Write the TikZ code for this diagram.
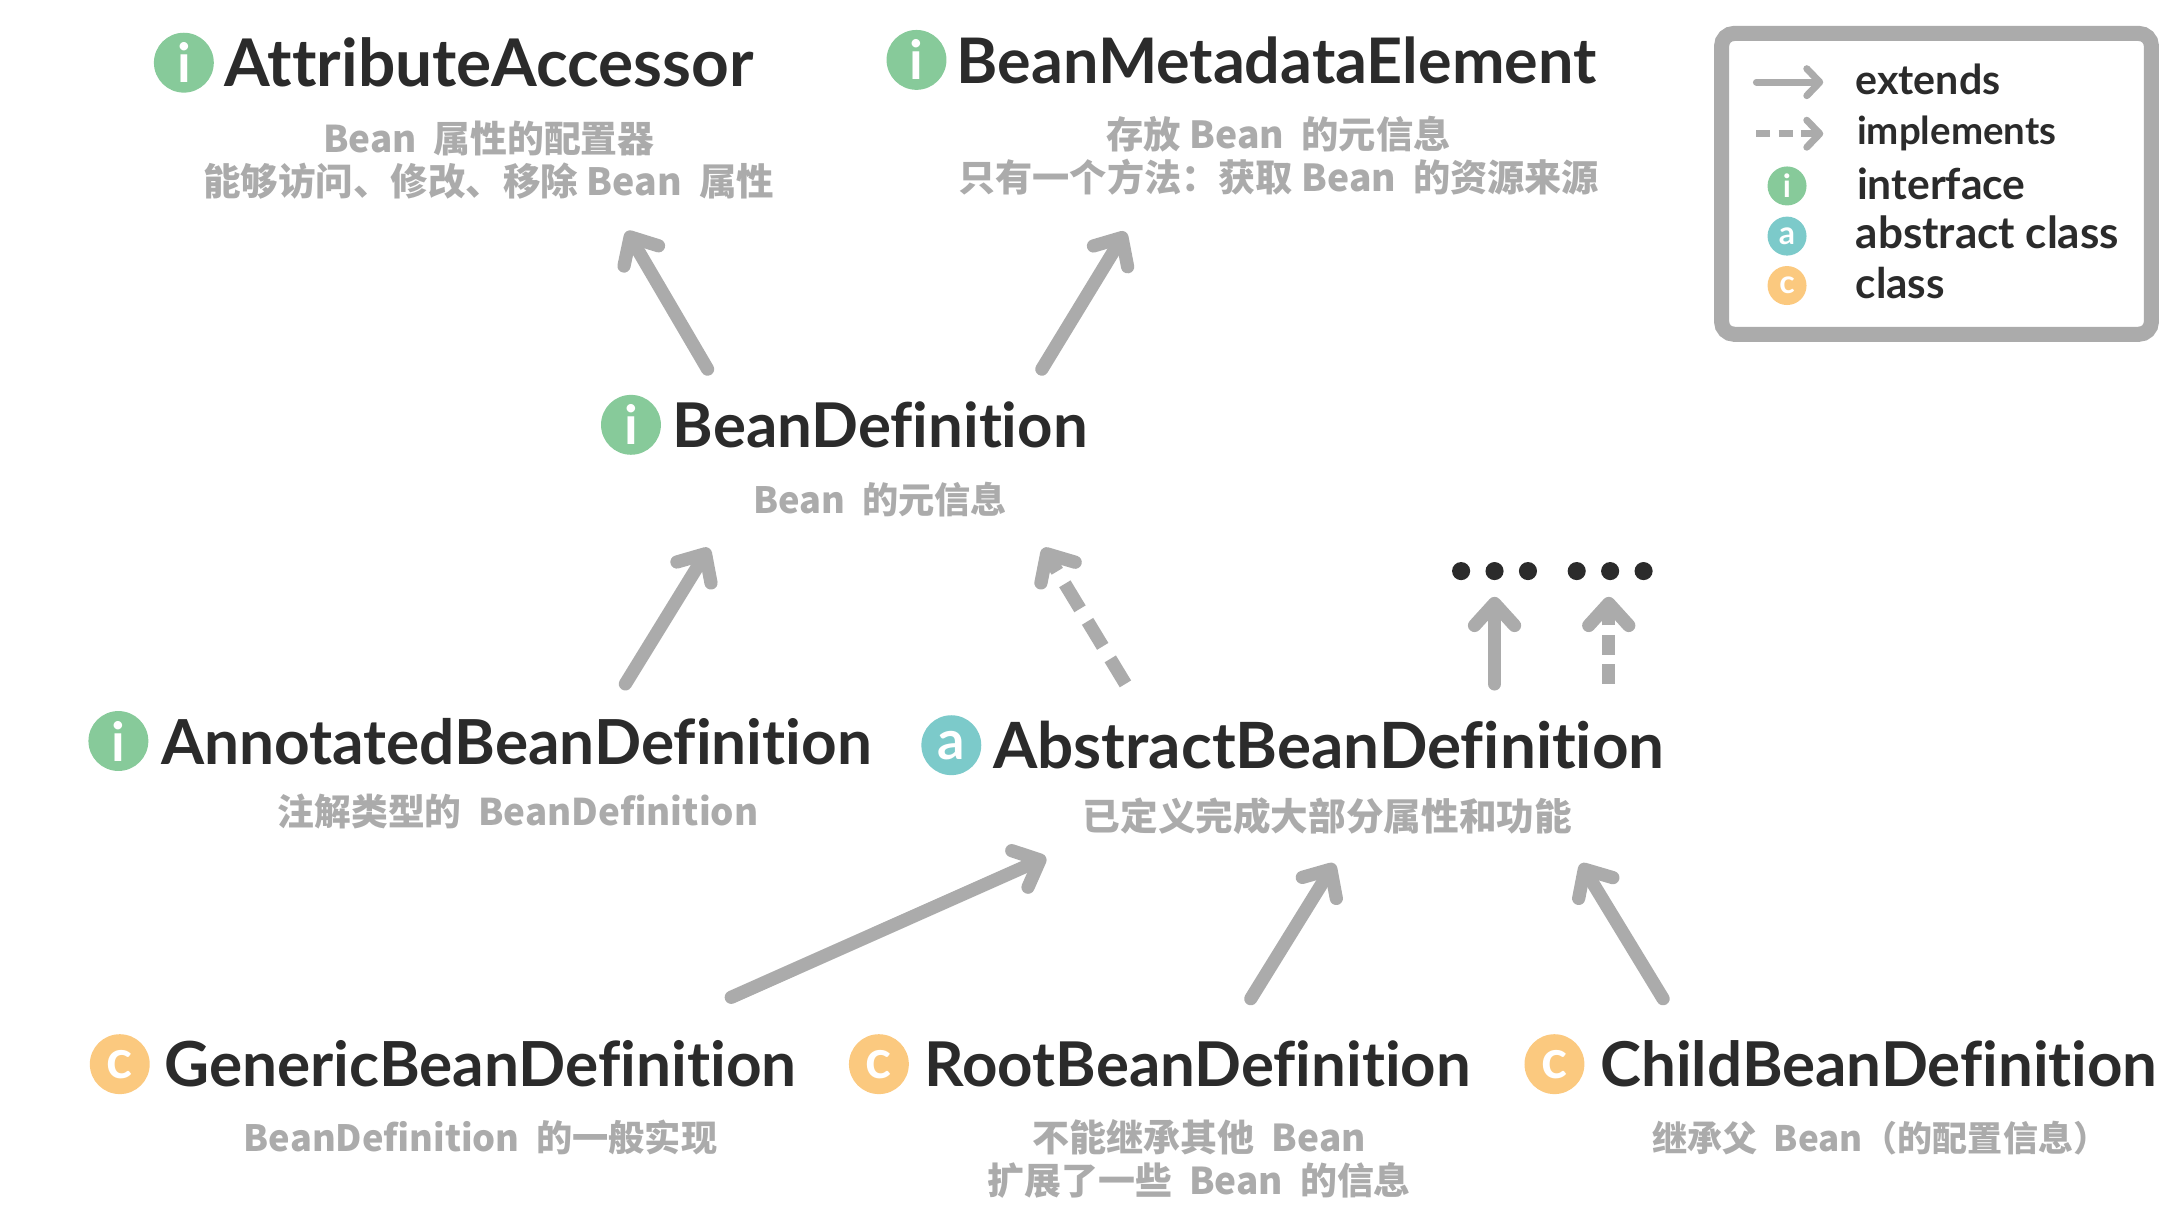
\documentclass[tikz,border=0pt]{standalone}
\usepackage{fontspec}
\usepackage{graphicx}
\usetikzlibrary{arrows.meta}
\setmainfont[Ligatures=NoCommon]{Lato}
\newfontfamily\cjk{Noto Sans CJK SC}
\newlength{\U}\setlength{\U}{0.69643pt}
\definecolor{grn}{HTML}{87CA9A}
\definecolor{tea}{HTML}{7CCACA}
\definecolor{org}{HTML}{FBC97F}
\definecolor{gry}{HTML}{ABABAB}
\definecolor{drk}{HTML}{2B2B2B}
\newcommand{\fitw}[2]{\resizebox{#1\U}{!}{#2}}
\tikzset{
  x=\U, y=-\U,
  title/.style={inner sep=0pt,anchor=base,text=drk,font=\bfseries},
  subt/.style={inner sep=0pt,anchor=base,text=gry,font=\cjk\bfseries},
  legt/.style={inner sep=0pt,anchor=base west,text=drk,font=\bfseries},
  icon/.style={circle,inner sep=0pt,minimum size=43\U,text=white,font=\bfseries\fontsize{27}{27}\selectfont},
  icons/.style={circle,inner sep=0pt,minimum size=28\U,text=white,font=\bfseries\fontsize{16}{16}\selectfont},
  dotn/.style={circle,fill=drk,inner sep=0pt,minimum size=13\U},
  ext/.style={draw=gry,line width=9.5\U,line cap=round,-{Straight Barb[round,length=11pt,width=20pt]}},
  impl/.style={ext,line cap=butt,dash pattern=on 21\U off 10.5\U},
  implv/.style={ext,line cap=butt,dash pattern=on 14\U off 7\U},
  lext/.style={draw=gry,line width=5\U,line cap=round,-{Straight Barb[round,length=6.5pt,width=13.5pt]}},
  limp/.style={lext,line cap=butt,dash pattern=on 10\U off 6\U},
}
\begin{document}
\begin{tikzpicture}
\useasboundingbox (0,0) rectangle (1568,884.5);
% titles
\node[icon,fill=grn] (iaa) at (132,45) {i};
\node[title] (aa) at (351,62) {\fitw{380}{AttributeAccessor}};
\node[subt] (aas1) at (351,109.5) {\fitw{238}{Bean~~属性的配置器}};
\node[subt] (aas2) at (351,140.5) {\fitw{410}{能够访问、修改、移除 Bean~~属性}};
\node[icon,fill=grn] (ibm) at (658,43) {i};
\node[title] (bm) at (916.5,60) {\fitw{459}{BeanMetadataElement}};
\node[subt] (bms1) at (918,106.5) {\fitw{247}{存放 Bean~~的元信息}};
\node[subt] (bms2) at (918,137.5) {\fitw{460}{只有一个方法：获取 Bean~~的资源来源}};
\node[icon,fill=grn] (ibd) at (453,305) {i};
\node[title] (bd) at (632,321) {\fitw{298}{BeanDefinition}};
\node[subt] (bds) at (632,368.5) {\fitw{182}{Bean~~的元信息}};
\node[icon,fill=grn] (ian) at (85,532) {i};
\node[title] (an) at (371,549) {\fitw{510}{AnnotatedBeanDefinition}};
\node[subt] (ans) at (372,592.5) {\fitw{345}{注解类型的~~BeanDefinition}};
\node[icon,fill=tea] (iab) at (683,535) {a};
\node[title] (ab) at (954,552) {\fitw{482}{AbstractBeanDefinition}};
\node[subt] (abs) at (953,596.5) {\fitw{351}{已定义完成大部分属性和功能}};
\node[icon,fill=org] (ige) at (86,764) {c};
\node[title] (ge) at (345,780) {\fitw{454}{GenericBeanDefinition}};
\node[subt] (ges) at (345,826.5) {\fitw{340}{BeanDefinition~~的一般实现}};
\node[icon,fill=org] (iro) at (631,764) {c};
\node[title] (ro) at (860,780) {\fitw{392}{RootBeanDefinition}};
\node[subt] (ros1) at (861,826.5) {\fitw{239}{不能继承其他~~Bean}};
\node[subt] (ros2) at (861,857.5) {\fitw{304}{扩展了一些~~Bean~~的信息}};
\node[icon,fill=org] (ich) at (1116,764) {c};
\node[title] (ch) at (1349,780) {\fitw{400}{ChildBeanDefinition}};
\node[subt] (chs) at (1350,826.5) {\fitw{327}{继承父~~Bean（的配置信息）}};
% dots
\node[dotn] (d1) at (1049,410) {};
\node[dotn] (d2) at (1073,410) {};
\node[dotn] (d3) at (1097,410) {};
\node[dotn] (d4) at (1132,410) {};
\node[dotn] (d5) at (1156,410) {};
\node[dotn] (d6) at (1180,410) {};
% connectors
\draw[ext] ([shift={(-124,-56)}]bd.base) -- ([shift={(99,25.5)}]aas2.base);
\draw[ext] ([shift={(116,-56)}]bd.base) -- ([shift={(-110,29)}]bms2.base);
\draw[ext] ([shift={(78,-58)}]an.base) -- ([shift={(-123,25)}]bds.base);
\draw[impl] ([shift={(-146,-61)}]ab.base) -- ([shift={(117,25)}]bds.base);
\draw[ext] ([shift={(119,-61)}]ab.base) -- ([shift={(0,18.5)}]d2.center);
\draw[implv] ([shift={(201,-61)}]ab.base) -- ([shift={(-1,18.5)}]d5.center);
\draw[ext] ([shift={(180,-64)}]ge.base) -- ([shift={(-202,19)}]abs.base);
\draw[ext] ([shift={(38,-63)}]ro.base) -- ([shift={(5,23.5)}]abs.base);
\draw[ext] ([shift={(-155,-63)}]ch.base) -- ([shift={(182,23.5)}]abs.base);
% legend
\draw[gry,line width=10.8\U,rounded corners=9\U] (1236,24) rectangle (1544.6,240);
\coordinate (l1a) at (1261,59);
\coordinate (l1b) at (1309,59);
\coordinate (l2a) at (1261,96);
\coordinate (l2b) at (1309,96);
\draw[lext] (l1a) -- (l1b);
\draw[limp] (l2a) -- (l2b);
\node[icons,fill=grn] (li) at (1283,133.5) {i};
\node[icons,fill=tea] (la) at (1283,169.5) {a};
\node[icons,fill=org] (lc) at (1283,205) {c};
\node[legt] (t1) at (1332,68) {\fitw{104}{extends}};
\node[legt] (t2) at (1333,104) {\fitw{143}{implements}};
\node[legt] (t3) at (1333,143) {\fitw{121}{interface}};
\node[legt] (t4) at (1332,178.5) {\fitw{189}{abstract class}};
\node[legt] (t5) at (1332,214) {\fitw{64}{class}};
\end{tikzpicture}
\end{document}
